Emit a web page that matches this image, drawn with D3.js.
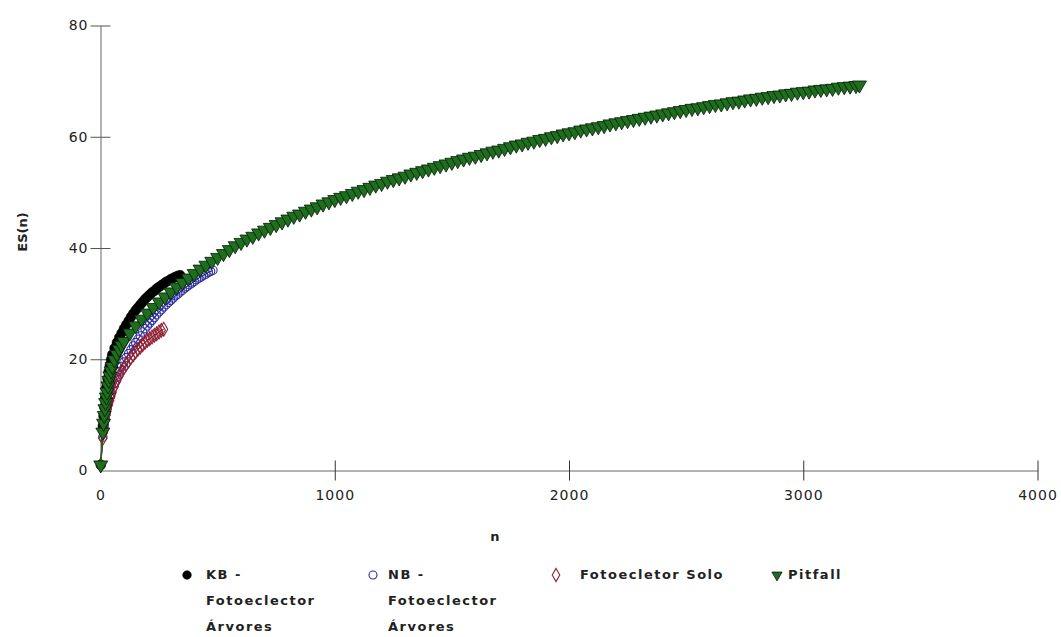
<!DOCTYPE html>
<html><head><meta charset="utf-8">
<script src="https://cdn.jsdelivr.net/npm/d3@7"></script>
<style>body{margin:0;background:#fff}svg{display:block}</style>
</head><body>
<svg id="c" width="1061" height="637"></svg>
<script>
const xTicks = [0, 1000, 2000, 3000, 4000];
const yTicks = [0, 20, 40, 60, 80];
const seriesNames = ["KB - Fotoeclector Árvores", "NB - Fotoeclector Árvores", "Fotoeclector Solo", "Pitfall"];

const kbN = [1,10,13,16,20,25,30,35,40,45,50,60,70,80,90,100,110,120,130,140,150,160,170,180,190,200,210,220,230,240,250,260,270,280,290,300,310,320,330,340];
const kbES = [1.0,8.0,9.8,11.4,13.0,14.9,16.5,17.8,18.9,19.9,20.8,22.0,23.0,23.9,24.7,25.5,26.2,26.9,27.6,28.2,28.8,29.3,29.8,30.3,30.8,31.2,31.6,32.0,32.3,32.7,33.0,33.3,33.6,33.9,34.1,34.4,34.6,34.8,35.0,35.1];

const nbN = [1,10,13,16,20,25,30,35,40,45,50,60,70,80,90,100,110,120,130,140,150,160,170,180,190,200,210,220,230,240,250,260,270,280,290,300,310,320,330,340,350,360,370,380,390,400,410,420,430,440,450,460,470,480];
const nbES = [1.0,6.0,7.2,8.2,9.3,10.5,11.5,12.3,13.1,13.8,14.5,15.7,16.8,17.8,18.7,19.5,20.3,21.0,21.7,22.4,23.0,23.6,24.2,24.9,25.5,26.0,26.5,27.0,27.5,28.0,28.5,28.9,29.4,29.8,30.2,30.6,31.0,31.4,31.7,32.1,32.4,32.8,33.1,33.4,33.7,34.0,34.3,34.6,34.8,35.1,35.3,35.6,35.8,36.0];

const soloN = [1,10,13,16,20,25,30,35,40,45,50,60,70,80,90,100,110,120,130,140,150,160,170,180,190,200,210,220,230,240,250,260,270];
const soloES = [1.0,5.8,6.8,7.7,8.9,10.0,11.0,11.8,12.6,13.3,14.0,15.1,16.1,17.0,17.8,18.5,19.1,19.7,20.3,20.8,21.3,21.8,22.2,22.6,23.0,23.4,23.7,24.0,24.3,24.6,24.9,25.2,25.4];

const pitN = [1,10,13,16,19,22,25,28,32,36,40,45,50,60,70,80,90,100,125,150,175,200,225,250,275,300,325,350,375,400,425,450,475,500,525,550,575,600,625,650,675,700,725,750,775,800,825,850,875,900,925,950,975,1000,1025,1050,1075,1100,1125,1150,1175,1200,1225,1250,1275,1300,1325,1350,1375,1400,1425,1450,1475,1500,1525,1550,1575,1600,1625,1650,1675,1700,1725,1750,1775,1800,1825,1850,1875,1900,1925,1950,1975,2000,2025,2050,2075,2100,2125,2150,2175,2200,2225,2250,2275,2300,2325,2350,2375,2400,2425,2450,2475,2500,2525,2550,2575,2600,2625,2650,2675,2700,2725,2750,2775,2800,2825,2850,2875,2900,2925,2950,2975,3000,3025,3050,3075,3100,3125,3150,3175,3200,3225,3240];
const pitES = [1.0,6.9,8.5,9.9,11.1,12.2,13.2,14.1,15.2,16.2,17.0,17.9,18.7,19.9,20.9,21.8,22.5,23.2,24.7,26.0,27.2,28.3,29.3,30.3,31.2,32.1,33.0,33.8,34.6,35.4,36.2,36.9,37.6,38.3,39.0,39.7,40.4,41.0,41.6,42.1,42.7,43.2,43.7,44.2,44.7,45.2,45.7,46.1,46.6,47.0,47.4,47.9,48.3,48.7,49.1,49.4,49.8,50.2,50.5,50.9,51.3,51.6,52.0,52.3,52.6,52.9,53.3,53.6,53.9,54.2,54.5,54.8,55.1,55.4,55.7,56.0,56.3,56.5,56.8,57.1,57.4,57.6,57.9,58.2,58.5,58.7,59.0,59.2,59.5,59.7,60.0,60.2,60.5,60.7,60.9,61.2,61.4,61.6,61.8,62.0,62.3,62.5,62.7,62.9,63.1,63.3,63.5,63.7,63.9,64.1,64.3,64.5,64.7,64.9,65.1,65.2,65.4,65.6,65.8,65.9,66.1,66.3,66.4,66.6,66.8,66.9,67.1,67.2,67.4,67.5,67.7,67.8,68.0,68.1,68.2,68.4,68.5,68.6,68.7,68.9,69.0,69.1,69.2,69.3];

const svg = d3.select("#c");
const x = d3.scaleLinear().domain([0, 4000]).range([100.5, 1037.5]);
const y = d3.scaleLinear().domain([0, 80]).range([470.5, 25.5]);
const FONT = "'DejaVu Sans', Verdana, sans-serif";
const axisColor = "#666";

// X axis
const gx = svg.append("g").attr("transform", `translate(0,${y(0)})`)
  .call(d3.axisBottom(x).tickValues(xTicks).tickSizeOuter(0).tickFormat(d3.format("d")));
gx.select(".domain").attr("stroke", axisColor);
gx.selectAll(".tick line").attr("y1", -10).attr("y2", 10).attr("stroke", "#333");
gx.selectAll(".tick").filter(d => d === 0).select("line").remove();
gx.selectAll(".tick text").attr("y", 25).attr("dy", "0.35em").attr("fill", "#222")
  .style("font-family", FONT).style("font-size", "14px").style("letter-spacing", "1px");

// Y axis
const gy = svg.append("g").attr("transform", `translate(${x(0)},0)`)
  .call(d3.axisLeft(y).tickValues(yTicks).tickSizeOuter(0));
gy.select(".domain").attr("stroke", axisColor);
gy.selectAll(".tick line").attr("x1", -10).attr("x2", 10).attr("stroke", "#555");
gy.selectAll(".tick").filter(d => d === 0).select("line").remove();
gy.selectAll(".tick text").attr("x", -12).attr("fill", "#222")
  .style("font-family", FONT).style("font-size", "14px").style("letter-spacing", "1px");

svg.append("text").attr("transform", "translate(23,232) rotate(-90)")
  .attr("text-anchor", "middle").attr("dominant-baseline", "middle")
  .style("font-family", FONT).style("font-size", "13px").style("font-weight", "bold")
  .attr("fill", "#222").text("ES(n)");
svg.append("text").attr("x", 495).attr("y", 537).attr("text-anchor", "middle")
  .attr("dominant-baseline", "middle")
  .style("font-family", FONT).style("font-size", "13px").style("font-weight", "bold")
  .attr("fill", "#222").text("n");

const series = [
  {N: kbN, V: kbES, sym: d3.symbolCircle, size: 75, leg: 60, fill: "#000", stroke: "#000", sw: 0.5, line: "#000"},
  {N: nbN, V: nbES, sym: d3.symbolCircle, size: 55, leg: 50, fill: "none", stroke: "#2b2b9c", sw: 1.1, line: "#2b2b9c"},
  {N: soloN, V: soloES, sym: d3.symbolDiamond, size: 55, leg: 50, fill: "none", stroke: "#8e2030", sw: 1.1, line: "#8e2030"},
  {N: pitN, V: pitES, sym: d3.symbolTriangle, size: 85, leg: 45, fill: "#1d6e1d", stroke: "#061806", sw: 0.8, line: "#1d6e1d", flip: true}
];

series.forEach(s => {
  const pts = s.N.map((n, i) => [n, s.V[i]]);
  svg.append("path").datum(pts)
    .attr("d", d3.line().x(d => x(d[0])).y(d => y(d[1])))
    .attr("fill", "none").attr("stroke", s.line).attr("stroke-width", 1.2);
  svg.append("g").selectAll("path").data(pts).join("path")
    .attr("transform", d => `translate(${x(d[0])},${y(d[1])})${s.flip ? " rotate(180)" : ""}`)
    .attr("d", d3.symbol().type(s.sym).size(s.size))
    .attr("fill", s.fill).attr("stroke", s.stroke).attr("stroke-width", s.sw);
});

// Legend
const legendItems = [
  {lines: ["KB -", "Fotoeclector", "Árvores"], mx: 187, tx: 206, s: series[0]},
  {lines: ["NB -", "Fotoeclector", "Árvores"], mx: 373, tx: 388, s: series[1]},
  {lines: ["Fotoecletor Solo"], mx: 556, tx: 580, s: series[2]},
  {lines: ["Pitfall"], mx: 777, tx: 788, s: series[3]}
];
const legY = 575;
legendItems.forEach(it => {
  const s = it.s;
  svg.append("path")
    .attr("transform", `translate(${it.mx},${legY})${s.flip ? " rotate(180)" : ""}`)
    .attr("d", d3.symbol().type(s.sym).size(s.leg))
    .attr("fill", s.fill).attr("stroke", s.stroke).attr("stroke-width", s.sw);
  it.lines.forEach((t, i) => {
    svg.append("text").attr("x", it.tx).attr("y", legY + i * 26)
      .attr("dominant-baseline", "middle")
      .style("font-family", FONT).style("font-size", "13px").style("font-weight", "bold")
      .style("letter-spacing", "1.5px").attr("fill", "#222").text(t);
  });
});
</script>
</body></html>
